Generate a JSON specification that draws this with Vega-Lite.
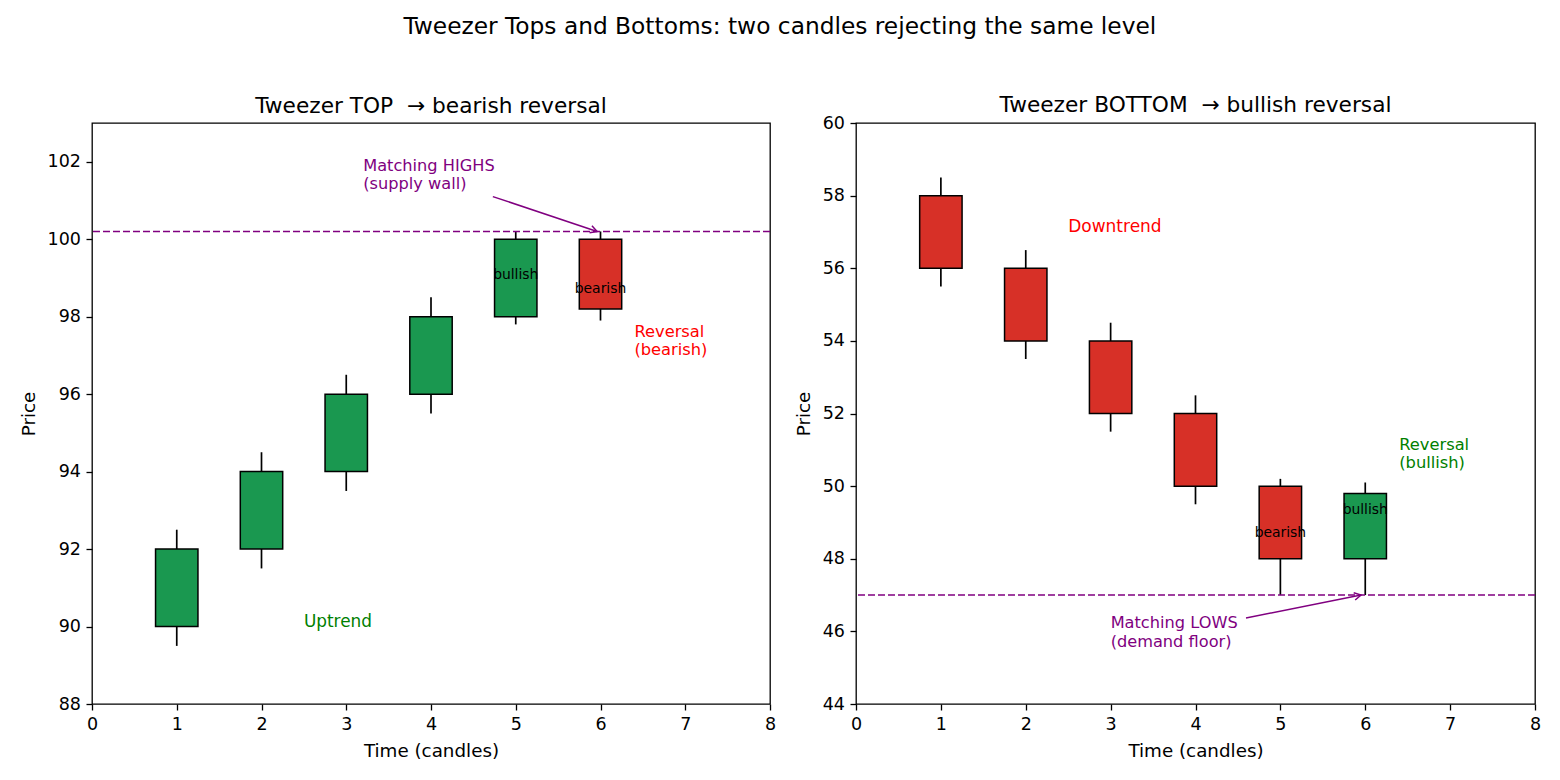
{
  "$schema": "https://vega.github.io/schema/vega-lite/v6.json",
  "padding": {"left": 18, "top": 15, "right": 20, "bottom": 5},
  "config": {
    "font": "DejaVu Sans",
    "view": {"stroke": "black", "strokeWidth": 1.3},
    "axis": {"domain": false, "grid": false, "labelFlush": false, "tickColor": "black", "tickSize": 6, "tickWidth": 1.3, "labelColor": "black", "labelFontSize": 17.5, "titleFontSize": 18.3, "titleFontWeight": "normal", "titleColor": "black", "labelPadding": 5.5, "titlePadding": 9, "labelFont": "DejaVu Sans", "titleFont": "DejaVu Sans"},
    "title": {"fontSize": 21.7, "fontWeight": "normal", "color": "black", "font": "DejaVu Sans"},
    "concat": {"spacing": 16}
  },
  "title": {"text": "Tweezer Tops and Bottoms: two candles rejecting the same level", "anchor": "middle", "offset": 55, "fontSize": 23.3},
  "datasets": {
    "top_candles": [
      {"t": 1, "open": 90, "close": 92, "low": 89.5, "high": 92.5, "dir": "up"},
      {"t": 2, "open": 92, "close": 94, "low": 91.5, "high": 94.5, "dir": "up"},
      {"t": 3, "open": 94, "close": 96, "low": 93.5, "high": 96.5, "dir": "up"},
      {"t": 4, "open": 96, "close": 98, "low": 95.5, "high": 98.5, "dir": "up"},
      {"t": 5, "open": 98, "close": 100, "low": 97.8, "high": 100.2, "dir": "up"},
      {"t": 6, "open": 100, "close": 98.2, "low": 97.9, "high": 100.2, "dir": "down"}
    ],
    "bottom_candles": [
      {"t": 1, "open": 58, "close": 56, "low": 55.5, "high": 58.5, "dir": "down"},
      {"t": 2, "open": 56, "close": 54, "low": 53.5, "high": 56.5, "dir": "down"},
      {"t": 3, "open": 54, "close": 52, "low": 51.5, "high": 54.5, "dir": "down"},
      {"t": 4, "open": 52, "close": 50, "low": 49.5, "high": 52.5, "dir": "down"},
      {"t": 5, "open": 50, "close": 48, "low": 47, "high": 50.2, "dir": "down"},
      {"t": 6, "open": 48, "close": 49.8, "low": 47, "high": 50.1, "dir": "up"}
    ]
  },
  "hconcat": [
    {
      "width": 678,
      "height": 581,
      "title": {"text": "Tweezer TOP \u00a0→ bearish reversal", "offset": 5},
      "layer": [
        {
          "data": {"name": "top_candles"},
          "mark": {"type": "rule", "color": "black", "strokeWidth": 1.7},
          "encoding": {
            "x": {"field": "t", "type": "quantitative", "scale": {"domain": [0, 8], "nice": false, "zero": false, "padding": 0}, "axis": {"title": "Time (candles)", "values": [0, 1, 2, 3, 4, 5, 6, 7, 8], "format": "d"}},
            "y": {"field": "low", "type": "quantitative", "scale": {"domain": [88, 103], "nice": false, "zero": false, "padding": 0}, "axis": {"title": "Price", "values": [88, 90, 92, 94, 96, 98, 100, 102], "format": "d"}},
            "y2": {"field": "high"}
          }
        },
        {
          "data": {"name": "top_candles"},
          "mark": {"type": "bar", "size": 42.4, "stroke": "black", "strokeWidth": 1.5},
          "encoding": {
            "x": {"field": "t", "type": "quantitative"},
            "y": {"field": "open", "type": "quantitative"},
            "y2": {"field": "close"},
            "color": {"field": "dir", "type": "nominal", "scale": {"domain": ["up", "down"], "range": ["#1a9850", "#d73027"]}, "legend": null}
          }
        },
        {
          "data": {"values": [{"level": 100.2}]},
          "mark": {"type": "rule", "color": "#800080", "strokeDash": [7, 3], "strokeWidth": 1.5},
          "encoding": {"y": {"field": "level", "type": "quantitative"}}
        },
        {
          "data": {"values": [{"x": 5, "y": 98.98, "label": "bullish"}, {"x": 6, "y": 98.6, "label": "bearish"}]},
          "mark": {"type": "text", "fontSize": 13.9, "color": "black", "align": "center", "baseline": "alphabetic"},
          "encoding": {"x": {"field": "x", "type": "quantitative"}, "y": {"field": "y", "type": "quantitative"}, "text": {"field": "label"}}
        },
        {
          "data": {"values": [{"x": 3.2, "y": 102.1, "label": "Matching HIGHS\n(supply wall)"}]},
          "mark": {"type": "text", "fontSize": 16.2, "color": "#800080", "align": "left", "baseline": "top", "lineBreak": "\n", "lineHeight": 18.5},
          "encoding": {"x": {"field": "x", "type": "quantitative"}, "y": {"field": "y", "type": "quantitative"}, "text": {"field": "label"}}
        },
        {
          "data": {"values": [{"x": 6.4, "y": 97.8, "label": "Reversal\n(bearish)"}]},
          "mark": {"type": "text", "fontSize": 16.3, "color": "#ff0000", "align": "left", "baseline": "top", "lineBreak": "\n", "lineHeight": 18},
          "encoding": {"x": {"field": "x", "type": "quantitative"}, "y": {"field": "y", "type": "quantitative"}, "text": {"field": "label"}}
        },
        {
          "data": {"values": [{"x": 2.5, "y": 90, "label": "Uptrend"}]},
          "mark": {"type": "text", "fontSize": 16.9, "color": "#008000", "align": "left", "baseline": "alphabetic"},
          "encoding": {"x": {"field": "x", "type": "quantitative"}, "y": {"field": "y", "type": "quantitative"}, "text": {"field": "label"}}
        },
        {
          "data": {"values": [{"x": 4.73, "y": 101.1, "x2": 5.96, "y2": 100.2}]},
          "mark": {"type": "rule", "color": "#800080", "strokeWidth": 1.5},
          "encoding": {"x": {"field": "x", "type": "quantitative"}, "y": {"field": "y", "type": "quantitative"}, "x2": {"field": "x2"}, "y2": {"field": "y2"}}
        },
        {
          "data": {"values": [{"x2": 5.96, "y2": 100.2}]},
          "mark": {"type": "point", "shape": "M-1,-0.55L0,0L-1,0.55", "filled": false, "stroke": "#800080", "strokeWidth": 1.5, "size": 180, "angle": 18.6, "opacity": 1},
          "encoding": {"x": {"field": "x2", "type": "quantitative"}, "y": {"field": "y2", "type": "quantitative"}}
        }
      ]
    },
    {
      "width": 679,
      "height": 581,
      "title": {"text": "Tweezer BOTTOM \u00a0→ bullish reversal", "offset": -3},
      "layer": [
        {
          "data": {"name": "bottom_candles"},
          "mark": {"type": "rule", "color": "black", "strokeWidth": 1.7},
          "encoding": {
            "x": {"field": "t", "type": "quantitative", "scale": {"domain": [0, 8], "nice": false, "zero": false, "padding": 0}, "axis": {"title": "Time (candles)", "values": [0, 1, 2, 3, 4, 5, 6, 7, 8], "format": "d"}},
            "y": {"field": "low", "type": "quantitative", "scale": {"domain": [44, 60], "nice": false, "zero": false, "padding": 0}, "axis": {"title": "Price", "values": [44, 46, 48, 50, 52, 54, 56, 58, 60], "format": "d"}},
            "y2": {"field": "high"}
          }
        },
        {
          "data": {"name": "bottom_candles"},
          "mark": {"type": "bar", "size": 42.4, "stroke": "black", "strokeWidth": 1.5},
          "encoding": {
            "x": {"field": "t", "type": "quantitative"},
            "y": {"field": "open", "type": "quantitative"},
            "y2": {"field": "close"},
            "color": {"field": "dir", "type": "nominal", "scale": {"domain": ["up", "down"], "range": ["#1a9850", "#d73027"]}, "legend": null}
          }
        },
        {
          "data": {"values": [{"level": 47}]},
          "mark": {"type": "rule", "color": "#800080", "strokeDash": [7, 3], "strokeWidth": 1.5},
          "encoding": {"y": {"field": "level", "type": "quantitative"}}
        },
        {
          "data": {"values": [{"x": 5, "y": 48.6, "label": "bearish"}, {"x": 6, "y": 49.23, "label": "bullish"}]},
          "mark": {"type": "text", "fontSize": 13.9, "color": "black", "align": "center", "baseline": "alphabetic"},
          "encoding": {"x": {"field": "x", "type": "quantitative"}, "y": {"field": "y", "type": "quantitative"}, "text": {"field": "label"}}
        },
        {
          "data": {"values": [{"x": 3.0, "y": 46.45, "label": "Matching LOWS\n(demand floor)"}]},
          "mark": {"type": "text", "fontSize": 16.2, "color": "#800080", "align": "left", "baseline": "top", "lineBreak": "\n", "lineHeight": 18.5},
          "encoding": {"x": {"field": "x", "type": "quantitative"}, "y": {"field": "y", "type": "quantitative"}, "text": {"field": "label"}}
        },
        {
          "data": {"values": [{"x": 6.4, "y": 51.36, "label": "Reversal\n(bullish)"}]},
          "mark": {"type": "text", "fontSize": 16.3, "color": "#008000", "align": "left", "baseline": "top", "lineBreak": "\n", "lineHeight": 18},
          "encoding": {"x": {"field": "x", "type": "quantitative"}, "y": {"field": "y", "type": "quantitative"}, "text": {"field": "label"}}
        },
        {
          "data": {"values": [{"x": 2.5, "y": 57, "label": "Downtrend"}]},
          "mark": {"type": "text", "fontSize": 17, "color": "#ff0000", "align": "left", "baseline": "alphabetic"},
          "encoding": {"x": {"field": "x", "type": "quantitative"}, "y": {"field": "y", "type": "quantitative"}, "text": {"field": "label"}}
        },
        {
          "data": {"values": [{"x": 4.595, "y": 46.37, "x2": 5.95, "y2": 47}]},
          "mark": {"type": "rule", "color": "#800080", "strokeWidth": 1.5},
          "encoding": {"x": {"field": "x", "type": "quantitative"}, "y": {"field": "y", "type": "quantitative"}, "x2": {"field": "x2"}, "y2": {"field": "y2"}}
        },
        {
          "data": {"values": [{"x2": 5.95, "y2": 47}]},
          "mark": {"type": "point", "shape": "M-1,-0.55L0,0L-1,0.55", "filled": false, "stroke": "#800080", "strokeWidth": 1.5, "size": 180, "angle": -11.7, "opacity": 1},
          "encoding": {"x": {"field": "x2", "type": "quantitative"}, "y": {"field": "y2", "type": "quantitative"}}
        }
      ]
    }
  ]
}
